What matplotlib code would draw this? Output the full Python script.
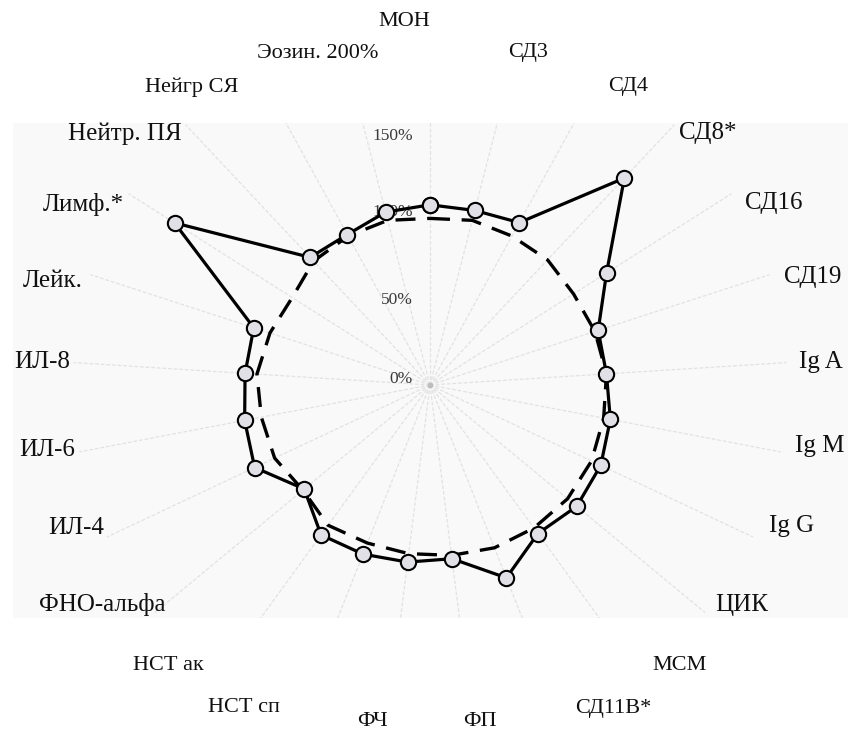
import numpy as np
import matplotlib
matplotlib.use("Agg")
import matplotlib.pyplot as plt
from matplotlib.patches import Rectangle

# categories, clockwise from the top
categories = ["МОН", "СД3", "СД4", "СД8*", "СД16", "СД19", "Ig A", "Ig M", "Ig G",
              "ЦИК", "МСМ", "СД11В*", "ФП", "ФЧ", "НСТ сп", "НСТ ак", "ФНО-альфа",
              "ИЛ-4", "ИЛ-6", "ИЛ-8", "Лейк.", "Лимф.*", "Нейтр. ПЯ", "Нейгр СЯ", "Эозин."]

# % of norm
patients = [106, 106, 109, 167, 123, 104, 104, 108, 111, 112, 108, 122, 103,
            105, 107, 109, 96, 114, 111, 109, 109, 178, 103, 101, 105]
control = [98, 100, 100, 101, 100, 102, 104, 104, 105, 105, 104, 103, 101,
           100, 100, 102, 97, 101, 101, 102, 99, 96, 100, 100, 100]

r_ticks = [0, 50, 100, 150]
r_tick_labels = ["0%", "50%", "100%", "150%"]

W, H = 848, 733
CX, CY = 430, 385      # centre of the radar, px
PX_PER_UNIT = 1.7      # 100% = 170 px
RMAX = 210

# label positions (pixel centres) and which ones belong to the scanned panel
label_pos = {
    "МОН": (404, 22), "Эозин.": (318, 53), "СД3": (528, 53), "Нейгр СЯ": (192, 87),
    "СД4": (628, 87), "НСТ ак": (168, 665), "МСМ": (680, 665), "НСТ сп": (244, 708),
    "СД11В*": (613, 708), "ФЧ": (372, 722), "ФП": (480, 722),
    "Нейтр. ПЯ": (125, 134), "Лимф.*": (83, 204), "Лейк.": (53, 281), "ИЛ-8": (42, 362),
    "ИЛ-6": (47, 450), "ИЛ-4": (76, 528), "ФНО-альфа": (102, 605),
    "СД8*": (708, 133), "СД16": (774, 203), "СД19": (813, 277), "Ig A": (821, 362),
    "Ig M": (820, 446), "Ig G": (792, 526), "ЦИК": (742, 605),
}
overlay = {"МОН", "Эозин.", "СД3", "Нейгр СЯ", "СД4", "НСТ ак", "МСМ", "НСТ сп",
           "СД11В*", "ФЧ", "ФП"}
label_text = {"Эозин.": "Эозин. 200%"}
tick_shift = {0: 6, 100: 3, 150: -6}   # px, to sit where the scan has them

serif = ["Liberation Serif", "DejaVu Serif"]


def fx(x):
    return x / W


def fy(y):
    return 1 - y / H


fig = plt.figure(figsize=(W / 100, H / 100), dpi=100)
fig.patch.set_facecolor("white")

# very light grey scanned panel
panel = Rectangle((fx(13), fy(618)), fx(848) - fx(13), fy(123) - fy(618),
                  transform=fig.transFigure, facecolor="#f9f9f9", edgecolor="none",
                  zorder=-5)
fig.patches.append(panel)

R = RMAX * PX_PER_UNIT
ax = fig.add_axes([fx(CX - R), fy(CY + R), 2 * R / W, 2 * R / H], projection="polar")
ax.set_zorder(1)
ax.set_theta_zero_location("N")
ax.set_theta_direction(-1)
ax.set_ylim(0, RMAX)
ax.patch.set_alpha(0)
ax.grid(False)
ax.spines["polar"].set_visible(False)
ax.set_xticks([])
ax.set_yticks([])

n = len(categories)
theta = np.arange(n) * 2 * np.pi / n

# faint spokes, clipped to the panel
clip = Rectangle((fx(13), fy(618)), fx(848) - fx(13), fy(123) - fy(618),
                 transform=fig.transFigure, facecolor="none", edgecolor="none")
for t in theta:
    ln, = ax.plot([t, t], [0, RMAX], color="#e2e2e2", lw=0.9,
                  linestyle=(0, (3, 1.5)), zorder=1)
    ln.set_clip_path(clip)
ax.plot([0], [0], "o", color="#bdbdbd", ms=3, zorder=1)

for v, s in zip(r_ticks, r_tick_labels):
    ax.annotate(s, xy=(0, v), xytext=(-17, tick_shift.get(v, 0)),
                textcoords="offset pixels", ha="right", va="center",
                fontsize=12.5, color="#3a3a3a", family=serif, zorder=2)

th = np.append(theta, theta[0])
ax.plot(th, control + control[:1], color="black", lw=2.4, dashes=(6, 3.5), zorder=3)
ax.plot(th, patients + patients[:1], color="black", lw=2.3, marker="o", ms=11,
        markerfacecolor="#e0e0e6", markeredgecolor="black", markeredgewidth=1.5,
        zorder=4)

for c in categories:
    x, y = label_pos[c]
    size = 16 if c in overlay else 18
    fig.text(fx(x), fy(y), label_text.get(c, c), ha="center", va="center",
             fontsize=size, family=serif, color="#111111", zorder=5)

fig.savefig("out.png", dpi=100)
